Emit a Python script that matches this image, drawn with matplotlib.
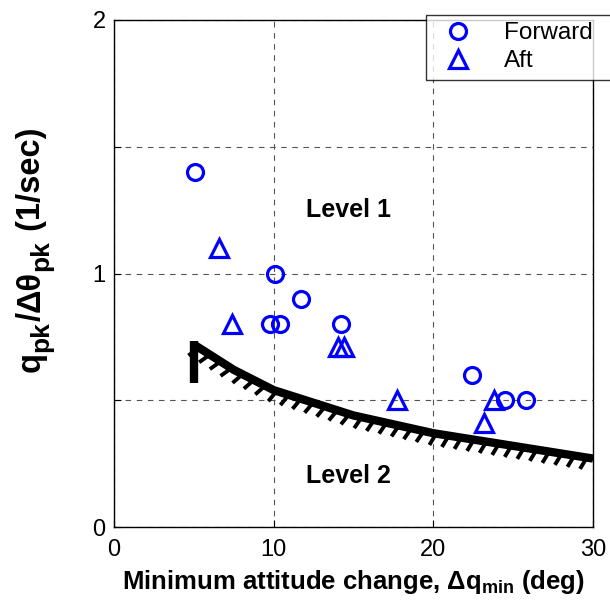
import numpy as np
import matplotlib
matplotlib.use("Agg")
import matplotlib.pyplot as plt
from matplotlib import patheffects
from matplotlib.transforms import offset_copy

plt.rcParams['font.family'] = ['Liberation Sans', 'DejaVu Sans']
plt.rcParams['mathtext.fontset'] = 'custom'
plt.rcParams['mathtext.rm'] = 'Liberation Sans:bold'
plt.rcParams['mathtext.bf'] = 'Liberation Sans:bold'
plt.rcParams['mathtext.it'] = 'Liberation Sans:bold'

# Forward-station data
fwd_x = [5.1, 10.1, 9.8, 10.4, 11.7, 14.2, 22.4, 24.5, 25.8]
fwd_y = [1.40, 1.00, 0.80, 0.80, 0.90, 0.80, 0.60, 0.50, 0.50]

# Aft-station data
aft_x = [6.6, 7.4, 14.0, 14.4, 17.7, 23.8, 23.2]
aft_y = [1.10, 0.80, 0.71, 0.71, 0.50, 0.50, 0.41]

# Level 1 / Level 2 boundary
bnd_x = [5, 7.5, 10, 12, 15, 20, 25, 30]
bnd_y = [0.72, 0.62, 0.54, 0.50, 0.44, 0.37, 0.32, 0.27]
bnd_end_y = 0.57

blue = (0, 0, 1)

W, H = 610, 607
fig = plt.figure(figsize=(W / 100, H / 100), dpi=100)
ax = fig.add_axes([114/W, 1 - 527/H, (593 - 114)/W, (527 - 20)/H])

# boundary: hatched underside, then the thick line on top
ax.plot(bnd_x, bnd_y, color='black', lw=2.8, zorder=2,
        path_effects=[patheffects.withTickedStroke(spacing=9, angle=-112, length=0.9)])
ax.plot(bnd_x, bnd_y, color='black', lw=6, zorder=3, solid_capstyle='butt')
ax.plot([bnd_x[0], bnd_x[0]], [bnd_end_y, bnd_y[0] + 0.015], color='black', lw=6,
        zorder=3, solid_capstyle='butt')

ax.plot(fwd_x, fwd_y, linestyle='none', marker='o', markersize=11.5,
        markerfacecolor='none', markeredgecolor=blue, markeredgewidth=2.3,
        label='Forward', zorder=4)
ax.plot(aft_x, aft_y, linestyle='none', marker='^', markersize=13,
        markerfacecolor='none', markeredgecolor=blue, markeredgewidth=2.3,
        label='Aft', zorder=4)

ax.text(14.7, 1.25, 'Level 1', fontsize=18, fontweight='bold', ha='center', va='center')
ax.text(14.7, 0.20, 'Level 2', fontsize=18, fontweight='bold', ha='center', va='center')

ax.set_xlim(0, 30)
ax.set_ylim(0, 2)
ax.set_xticks([0, 10, 20, 30])
ax.set_xticklabels(['0', '10', '20', '30'])
ax.set_yticks([0, 0.5, 1, 1.5, 2])
ax.set_yticklabels(['0', '', '1', '', '2'])
ax.tick_params(axis='x', pad=9)
ax.tick_params(axis='y', pad=6)
ax.tick_params(direction='in', length=5, labelsize=17, top=False, right=False)
ax.grid(True, linestyle=(0, (5, 5)), color='#555555', linewidth=0.8)
ax.set_axisbelow(True)
for s in ax.spines.values():
    s.set_linewidth(1.0)

ax.set_xlabel(r'Minimum attitude change, $\Delta$q$_{\mathrm{min}}$ (deg)',
              fontsize=18.5, fontweight='bold', labelpad=5)

# y label built piece by piece so the subscripts stay large
renderer = fig.canvas.get_renderer()
ylabel_parts = [('q', False), ('pk', True), ('/', False), ('\u0394\u03b8', False),
                ('pk', True), (' (1/sec)', False)]
base_size, sub_size, sub_drop = 23.5, 19, 8
x_base = 40             # baseline, pixels from the left edge
y_pos = H - 372         # start of the text, pixels from the bottom edge
for s, is_sub in ylabel_parts:
    t = fig.text(0, 0, s, fontsize=sub_size if is_sub else base_size,
                 fontweight='bold', rotation=90, rotation_mode='anchor',
                 ha='left', va='baseline')
    xx = x_base + (sub_drop if is_sub else 0)
    t.set_transform(offset_copy(fig.transFigure, fig=fig, x=xx, y=y_pos, units='dots'))
    ext = t.get_window_extent(renderer)
    y_pos += ext.height

leg = fig.legend(loc='upper left', bbox_to_anchor=(426/W, 1 - 81/H, 200/W, 66/H),
                 mode='expand', fontsize=17.5, frameon=True, fancybox=False,
                 edgecolor='black', handletextpad=0.9, borderpad=0.3,
                 labelspacing=0.25, handlelength=2.0, borderaxespad=0)
leg.get_frame().set_linewidth(1.0)

fig.savefig('out.png', dpi=100)
